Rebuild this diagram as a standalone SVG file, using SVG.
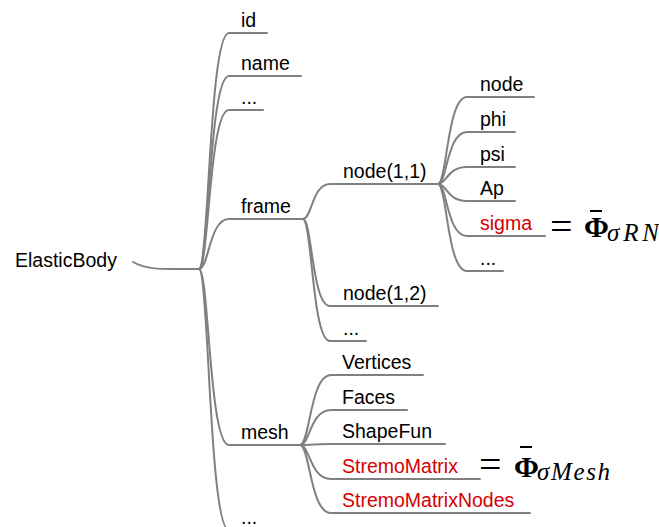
<svg xmlns="http://www.w3.org/2000/svg" width="659" height="527" viewBox="0 0 659 527">
  <style>
    .lbl { font-family: "Liberation Sans", Arial, sans-serif; font-size: 19.5px; fill: #000; }
    .red { fill: #d40000; }
    .edge { fill: none; stroke: #808080; stroke-width: 2; stroke-linecap: round; }
    .eq { font-family: "Liberation Serif", serif; font-size: 40px; fill: #000; }
    .phi { font-family: "Liberation Serif", serif; font-size: 30px; font-weight: bold; fill: #000; }
    .sub { font-family: "Liberation Serif", serif; font-size: 25px; font-style: italic; fill: #000; }
    .bar { stroke: #000; stroke-width: 2; }
  </style>
  <rect width="659" height="527" fill="#fff"/>

  <!-- connectors: branch curves plus the underline of each child -->
  <g id="connectors">
    <!-- root -->
    <path class="edge" d="M133,262 C145,269 160,269 175,269 L199,269"/>
    <!-- root children -->
    <path class="edge" d="M199,269 C209,269 209,33 229,33 L267,33"/>
    <path class="edge" d="M199,269 C209,269 209,76 229,76 L301,76"/>
    <path class="edge" d="M199,269 C209,269 209,110 229,110 L263,110"/>
    <path class="edge" d="M199,269 C209,269 209,219 229,219 L303,219"/>
    <path class="edge" d="M199,269 C209,269 209,445 229,445 L300,445"/>
    <path class="edge" d="M199,269 C209,269 209,530 229,530 L263,530"/>
    <!-- frame children -->
    <path class="edge" d="M303,219 C312,219 312,184 330,184 L438,184"/>
    <path class="edge" d="M303,219 C312,219 312,306 330,306 L438,306"/>
    <path class="edge" d="M303,219 C312,219 312,341 330,341 L366,341"/>
    <!-- node(1,1) children -->
    <path class="edge" d="M438,184 C447,184 447,97 467,97 L534,97"/>
    <path class="edge" d="M438,184 C447,184 447,132 467,132 L515,132"/>
    <path class="edge" d="M438,184 C447,184 447,167 467,167 L515,167"/>
    <path class="edge" d="M438,184 C447,184 447,201 467,201 L515,201"/>
    <path class="edge" d="M438,184 C447,184 447,236 467,236 L545,236"/>
    <path class="edge" d="M438,184 C447,184 447,271 467,271 L503,271"/>
    <!-- mesh children -->
    <path class="edge" d="M300,445 C310,445 310,375 331,375 L423,375"/>
    <path class="edge" d="M300,445 C310,445 310,410 331,410 L407,410"/>
    <path class="edge" d="M300,445 C310,445 310,444 331,444 L445,444"/>
    <path class="edge" d="M300,445 C310,445 310,479 331,479 L480,479"/>
    <path class="edge" d="M300,445 C310,445 310,513 331,513 L530,513"/>
  </g>

  <g id="ElasticBody"><text class="lbl" x="15" y="267">ElasticBody</text></g>

  <g id="id"><text class="lbl" x="241" y="27">id</text></g>
  <g id="name"><text class="lbl" x="241" y="70">name</text></g>
  <g id="more1"><text class="lbl" x="241" y="104">...</text></g>
  <g id="frame"><text class="lbl" x="241" y="213">frame</text></g>
  <g id="mesh"><text class="lbl" x="241" y="439">mesh</text></g>
  <g id="more2"><text class="lbl" x="241" y="524">...</text></g>

  <g id="node11"><text class="lbl" x="343" y="178">node(1,1)</text></g>
  <g id="node12"><text class="lbl" x="343" y="300">node(1,2)</text></g>
  <g id="more3"><text class="lbl" x="343" y="335">...</text></g>

  <g id="node"><text class="lbl" x="480" y="91">node</text></g>
  <g id="phi"><text class="lbl" x="480" y="126">phi</text></g>
  <g id="psi"><text class="lbl" x="480" y="161">psi</text></g>
  <g id="Ap"><text class="lbl" x="480" y="195">Ap</text></g>
  <g id="sigma">
    <text class="lbl red" x="480" y="230">sigma</text>
    <text class="eq" x="550" y="240" textLength="24">=</text>
    <line class="bar" x1="590" y1="211" x2="602" y2="211"/>
    <text class="phi" x="584" y="237">Φ</text>
    <text class="sub" x="607" y="241" textLength="52">σRN</text>
  </g>
  <g id="more4"><text class="lbl" x="480" y="265">...</text></g>

  <g id="Vertices"><text class="lbl" x="342" y="369">Vertices</text></g>
  <g id="Faces"><text class="lbl" x="342" y="404">Faces</text></g>
  <g id="ShapeFun"><text class="lbl" x="342" y="438">ShapeFun</text></g>
  <g id="StremoMatrix">
    <text class="lbl red" x="342" y="473">StremoMatrix</text>
    <text class="eq" x="479" y="478" textLength="24">=</text>
    <line class="bar" x1="520" y1="447" x2="532" y2="447"/>
    <text class="phi" x="514" y="477">Φ</text>
    <text class="sub" x="537" y="480" textLength="73">σMesh</text>
  </g>
  <g id="StremoMatrixNodes"><text class="lbl red" x="342" y="507">StremoMatrixNodes</text></g>
</svg>
